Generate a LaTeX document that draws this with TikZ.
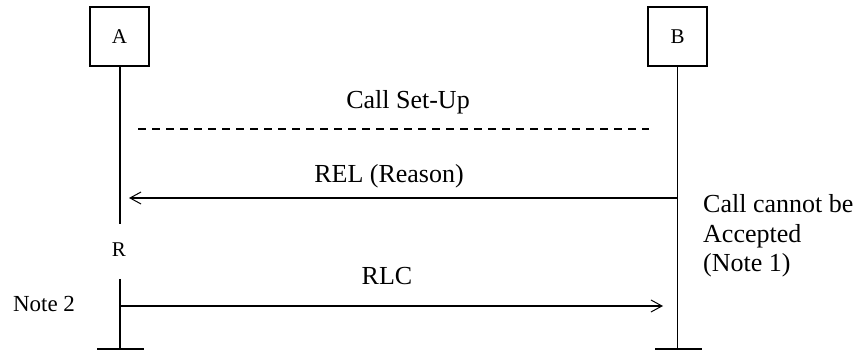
\documentclass[tikz,border=0pt]{standalone}
\usepackage{fontspec}
\setmainfont{Liberation Serif}
\usetikzlibrary{arrows.meta}
\begin{document}
\begin{tikzpicture}[x=1pt,y=-1pt,
  ent/.style={draw,line width=1.5pt,minimum width=59pt,minimum height=59pt,inner sep=0pt,font=\fontsize{21}{24}\selectfont},
  life/.style={line width=1.5pt},
  msg/.style={line width=1.5pt,-{Straight Barb[length=11pt,width=12pt,line width=1pt]}},
  lbl/.style={inner sep=0pt,anchor=base,font=\fontsize{26}{29.5}\selectfont},
  small/.style={inner sep=0pt,anchor=base,font=\fontsize{21}{24}\selectfont}]
\useasboundingbox (0,0) rectangle (861,352);
\node[ent] (A) at (119.5,36.5) {\raisebox{-4pt}{A}};
\node[ent] (B) at (677.5,36.5) {\raisebox{-4pt}{B}};
% lifeline coordinates
\coordinate (a1) at (120,224);
\coordinate (a2) at (120,279);
\coordinate (a3) at (120,349);
\coordinate (b3) at (677.5,349);
\coordinate (afl) at (97,349);
\coordinate (afr) at (144,349);
\coordinate (bfl) at (655,349);
\coordinate (bfr) at (702,349);
\draw[life] (A.south -| a1) -- (a1);
\draw[life] (a2) -- (a3);
\draw[life] (B.south) -- (b3);
\draw[life] (afl) -- (afr);
\draw[life] (bfl) -- (bfr);
% call set-up
\coordinate (d1) at (138,129);
\coordinate (d2) at (649,129);
\draw[line width=1.5pt,dash pattern=on 8pt off 6pt] (d1) -- (d2);
\node[lbl] (setup) at (408,109) {Call Set-Up};
% REL
\coordinate (rel0) at (677.5,198);
\coordinate (rel1) at (129,198);
\draw[msg] (rel0) -- (rel1);
\node[lbl] (rel) at (389,183) {REL (Reason)};
% note right
\node[inner sep=0pt,anchor=north west,align=left,font=\fontsize{26}{29.5}\selectfont] (n1) at (703,194.5) {Call cannot be\\Accepted\\(Note 1)};
% R
\node[small] (R) at (119,257) {R};
% RLC
\coordinate (rlc0) at (120,306);
\coordinate (rlc1) at (663,306);
\draw[msg] (rlc0) -- (rlc1);
\node[lbl] (rlc) at (387,284) {RLC};
\node[inner sep=0pt,anchor=base,font=\fontsize{23}{26}\selectfont] (n2) at (44,311) {Note 2};
\end{tikzpicture}
\end{document}
